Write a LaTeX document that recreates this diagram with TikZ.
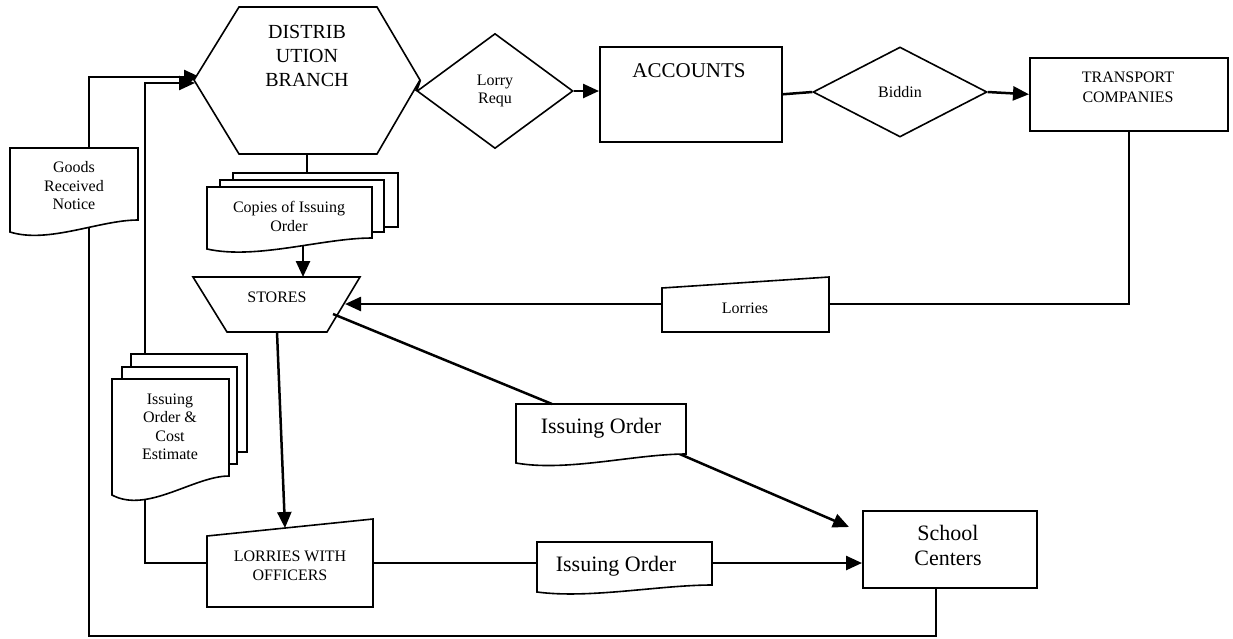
\documentclass[tikz,border=0pt]{standalone}
\usepackage{fontspec}
\setmainfont{Liberation Serif}
\usetikzlibrary{arrows.meta,shapes.geometric}
\pgfdeclarelayer{bg}
\pgfsetlayers{bg,main}
\begin{document}
\begin{tikzpicture}[x=1pt,y=-1pt,
  shp/.style={draw, line width=1.6pt, fill=white, line join=miter},
  conn/.style={draw, line width=2.5pt},
  arr/.style={conn, -{Triangle[length=16pt,width=14pt]}},
  txs/.style={align=center, inner sep=0pt, font=\fontsize{16}{18.5}\selectfont},
  txb/.style={align=center, inner sep=0pt, font=\fontsize{22}{25}\selectfont},
  box/.style={shp, rectangle, inner sep=0pt, anchor=north west},
  dia/.style={shp, diamond, inner sep=0pt, align=center, font=\fontsize{16}{18.5}\selectfont},
]
\useasboundingbox (0,0) rectangle (1233,638);
\begin{pgfonlayer}{bg}
  \fill[white] (0,0) rectangle (1233,638);
\end{pgfonlayer}

% ---- Distribution branch (hexagon)
\draw[shp] (239,7) -- (377,7) -- (420,80) -- (377,154) -- (239,154) -- (194,80) -- cycle;
\node[inner sep=0pt, align=center, font=\fontsize{20}{24}\selectfont] (dist) at (307,56) {DISTRIB\\UTION\\BRANCH};
\coordinate (hexE) at (420,80);
\coordinate (hexS) at (307,154);
\coordinate (hexInA) at (200,77);
\coordinate (hexInB) at (195,83);

% ---- Decisions and boxes along the top
\node[dia, minimum width=156pt, minimum height=115pt] (lrq) at (495,91) {Lorry\\Requ};
\node[box, minimum width=182pt, minimum height=95pt] (acc) at (599,46) {};
\node[inner sep=0pt, font=\fontsize{21}{24}\selectfont] (accT) at (689,71) {ACCOUNTS};
\node[dia, minimum width=174pt, minimum height=90pt] (bid) at (900,92) {Biddin};
\node[box, minimum width=198pt, minimum height=73pt] (trans) at (1029,57) {};
\node[align=center, inner sep=0pt, font=\fontsize{16}{20}\selectfont] (transT) at (1128,87) {TRANSPORT\\COMPANIES};

% ---- Goods received notice (document)
\draw[shp] (10,148) -- (138,148) -- (138,220) .. controls (99.6,220) and (48.4,244) .. (10,232) -- cycle;
\node[txs] (grn) at (74,186) {Goods\\Received\\Notice};
\coordinate (grnN) at (89,148);
\coordinate (grnS) at (89,226);

% ---- Copies of issuing order (multi-document)
\draw[shp] (233,173) rectangle (398,227);
\draw[shp] (220,180) rectangle (384,232);
\draw[shp] (207,187) -- (372,187) -- (372,238) .. controls (322.5,238) and (256.5,260) .. (207,249) -- cycle;
\node[txs] (cio) at (289,216.5) {Copies of Issuing\\Order};
\coordinate (cioN) at (307,173);
\coordinate (cioS) at (303,244);

% ---- Stores (trapezoid)
\draw[shp] (193,277) -- (360,277) -- (327,332) -- (227,332) -- cycle;
\node[txs] (stores) at (277,297) {STORES};
\coordinate (storesN) at (303,277);
\coordinate (storesE) at (345,304);
\coordinate (storesS) at (277,332);
\coordinate (storesX) at (333,314);

% ---- Lorries (manual input)
\draw[shp] (662,288) -- (829,277) -- (829,332) -- (662,332) -- cycle;
\node[txs] (lor) at (745,308) {Lorries};
\coordinate (lorW) at (662,304);
\coordinate (lorE) at (829,304);

% ---- Issuing order & cost estimate (multi-document)
\draw[shp] (131,354) rectangle (247,452);
\draw[shp] (122,367) rectangle (237,464);
\draw[shp] (112,379) -- (229,379) -- (229,476) .. controls (193.9,476) and (147.1,514) .. (112,495) -- cycle;
\node[txs] (ioce) at (170,427) {Issuing\\Order \&\\Cost\\Estimate};
\coordinate (ioceN) at (145,354);
\coordinate (ioceS) at (145,490);

% ---- Issuing order to the school centers (document)
\draw[shp] (516,404) -- (686,404) -- (686,454) .. controls (635,454) and (567,472) .. (516,463) -- cycle;
\node[txb] (ioA) at (601,428) {Issuing Order};
\coordinate (ioAN) at (552,404);
\coordinate (ioAS) at (675,452);

% ---- Lorries with officers (manual input)
\draw[shp] (207,536) -- (373,519) -- (373,607) -- (207,607) -- cycle;
\node[txs] (lwo) at (290,566) {LORRIES WITH\\OFFICERS};
\coordinate (lwoN) at (285,528);
\coordinate (lwoW) at (207,563);
\coordinate (lwoE) at (373,563);

% ---- Issuing order carried by the lorries (document)
\draw[shp] (537,542) -- (712,542) -- (712,585) .. controls (659.5,585) and (589.5,599) .. (537,592) -- cycle;
\node[txb] (ioB) at (616,566) {Issuing Order};
\coordinate (ioBW) at (537,563);
\coordinate (ioBE) at (712,563);

% ---- School centers
\node[box, minimum width=174pt, minimum height=77pt] (school) at (862,510) {};
\node[txb] (schoolT) at (948,545.5) {School\\Centers};
\coordinate (schoolS) at (936,587);
\coordinate (schoolIn) at (849,527);
\coordinate (loopBL) at (89,636);

% ---- Connectors
\begin{pgfonlayer}{bg}
  \draw[conn] (hexE) -- (lrq.west);
  \draw[arr] (lrq.east) -- (lrq.east -| acc.west);
  \draw[conn] (acc.east) -- (bid.west);
  \draw[arr] (bid.east) -- (trans.west);
  \draw[conn] (trans.south) |- (lorE);
  \draw[arr] (lorW) -- (storesE);
  \draw[conn] (hexS) -- (cioN);
  \draw[arr] (cioS) -- (storesN);
  \draw[arr] (storesS) -- (lwoN);
  \draw[conn] (lwoE) -- (ioBW);
  \draw[arr] (ioBE) -- (ioBE -| school.west);
  \draw[arr] (ioAS) -- (schoolIn);
  \draw[conn] (lwoW) -| (ioceS);
  \draw[arr] (ioceN) |- (hexInB);
  \draw[conn] (schoolS) |- (loopBL) -- (grnS);
  \draw[arr] (grnN) |- (hexInA);
\end{pgfonlayer}
\draw[conn] (storesX) -- (ioAN);
\end{tikzpicture}
\end{document}
